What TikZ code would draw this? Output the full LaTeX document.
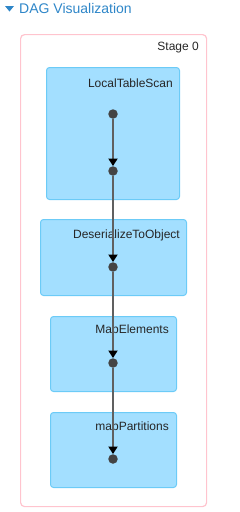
\documentclass[tikz,border=0pt]{standalone}
\usepackage{fontspec}
\setmainfont{Liberation Sans}
\usetikzlibrary{arrows.meta}
\definecolor{boxfill}{HTML}{A3DFFF}
\definecolor{boxline}{HTML}{6CCBF7}
\definecolor{stageline}{HTML}{FFC4CE}
\definecolor{titleblue}{HTML}{2E86C8}
\definecolor{dotgray}{HTML}{444444}
\definecolor{edgegray}{HTML}{606060}
\tikzset{
  opbox/.style={draw=boxline, line width=1pt, fill=boxfill, rounded corners=3pt, anchor=north west, inner sep=0pt},
  oplabel/.style={anchor=east, inner sep=0pt, font=\fontsize{12}{14}\selectfont, text=black!85},
  dot/.style={circle, fill=dotgray, minimum size=9.5pt, inner sep=0pt},
  edge/.style={draw=edgegray, line width=1.8pt, -{Triangle[width=9pt,length=7.5pt,color=black]}},
}
\begin{document}
\begin{tikzpicture}[x=1pt,y=-1pt]
\useasboundingbox (0,0) rectangle (239,512);
% title
\fill[titleblue] (5,6) -- (14,6) -- (9.5,11.5) -- cycle;
\node[anchor=west, inner sep=0pt, text=titleblue, font=\fontsize{14}{16}\selectfont] (title) at (19,8) {DAG Visualization};
% stage box
\node[draw=stageline, line width=1.2pt, rounded corners=4pt, anchor=north west, minimum width=186pt, minimum height=472pt, inner sep=0pt] (stage) at (20,34) {};
\node[oplabel] (stagelbl) at (199,48) {Stage 0};
% op boxes
\node[opbox, minimum width=133pt, minimum height=132pt] (b1) at (46,67) {};
\node[oplabel] (l1) at (173,83) {LocalTableScan};
\node[opbox, minimum width=146pt, minimum height=76pt] (b2) at (40,219) {};
\node[oplabel] (l2) at (180,235) {DeserializeToObject};
\node[opbox, minimum width=126pt, minimum height=75pt] (b3) at (50,316) {};
\node[oplabel] (l3) at (169,330) {MapElements};
\node[opbox, minimum width=126pt, minimum height=75pt] (b4) at (50,412) {};
\node[oplabel] (l4) at (169,427) {mapPartitions};
% dots
\node[dot] (d1) at (113,114) {};
\node[dot] (d2) at (113,171) {};
\node[dot] (d3) at (113,267) {};
\node[dot] (d4) at (113,363) {};
\node[dot] (d5) at (113,459) {};
% edges
\draw[edge] (d1) -- (d2);
\draw[edge] (d2) -- (d3);
\draw[edge] (d3) -- (d4);
\draw[edge] (d4) -- (d5);
\end{tikzpicture}
\end{document}
